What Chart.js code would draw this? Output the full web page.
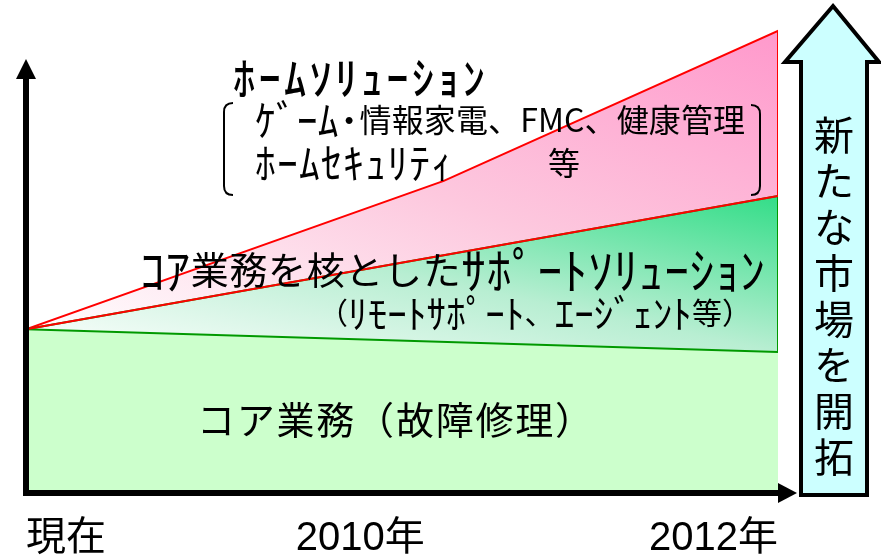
<!DOCTYPE html>
<html lang="ja">
<head>
<meta charset="utf-8">
<script src="https://cdn.jsdelivr.net/npm/chart.js@4.4.1/dist/chart.umd.min.js"></script>
<style>
  html, body { margin: 0; background: #fff; }
</style>
</head>
<body>
<canvas id="chart" width="881" height="560"></canvas>
<script>
// ---- data (index 0-100, years on x) ----
const years = [2008.4, 2010.4, 2012];           // 現在, 途中, 2012年
const tickYears = [2008.4, 2010, 2012];
const tickLabels = ['現在', '2010年', '2012年'];
const seriesNames = ['コア業務', 'コア業務を核としたサポートソリューション', 'ホームソリューション'];
const coreTop    = [34.6, null, 29.8];
const supportTop = [34.6, null, 62.8];
const homeTop    = [34.6, 66.0, 97.7];

const last = a => a[a.length - 1];
const pts = vals => years.map((x, i) => ({ x, y: vals[i] })).filter(p => p.y !== null);

// each layer closes down its right edge to the layer below
const coreData    = pts(coreTop);
const supportData = pts(supportTop).concat({ x: last(years), y: last(coreTop) });
const homeData    = pts(homeTop).concat({ x: last(years), y: last(supportTop) });

// diagonal gradient over the layer's bounding box (bottom-left -> top-right)
function diag(stops) {
  return c => {
    const chart = c.chart, sx = chart.scales.x, sy = chart.scales.y;
    if (!chart.chartArea || !sx || !sy || !c.dataset) return last(stops)[1];
    const xs = c.dataset.data.map(p => sx.getPixelForValue(p.x));
    const ys = c.dataset.data.map(p => sy.getPixelForValue(p.y));
    const x0 = Math.min(...xs), x1 = Math.max(...xs);
    const y0 = Math.min(...ys), y1 = Math.max(...ys);
    if (![x0, x1, y0, y1].every(isFinite)) return last(stops)[1];
    const W = x1 - x0, H = y1 - y0, k = 2 * W * H / (W * W + H * H);
    const g = chart.ctx.createLinearGradient(x0, y1, x0 + H * k, y1 - W * k);
    stops.forEach(([o, col]) => g.addColorStop(o, col));
    return g;
  };
}

// half-width kana are drawn a bit larger so they read like the original's tall narrow glyphs
const isHalfKana = ch => ch >= '\uFF61' && ch <= '\uFF9F';

function spread(ctx, text, x0, x1, cy, size, weight, kanaScale) {
  const fontFor = ch => `${weight || 'normal'} ${isHalfKana(ch) ? size * (kanaScale || 1.3) : size}px ${JP}`;
  ctx.textBaseline = 'middle';
  ctx.textAlign = 'left';
  const chars = [...text];
  const ws = chars.map(ch => { ctx.font = fontFor(ch); return ctx.measureText(ch).width; });
  const total = ws.reduce((s, w) => s + w, 0);
  const target = x1 - x0;
  const sc = total > target ? target / total : 1;
  const gap = total < target && chars.length > 1 ? (target - total) / (chars.length - 1) : 0;
  ctx.save();
  ctx.translate(x0, cy);
  ctx.scale(sc, 1);
  let x = 0;
  chars.forEach((ch, i) => { ctx.font = fontFor(ch); ctx.fillText(ch, x, 0); x += ws[i] + gap; });
  ctx.restore();
}

const JP = '"Noto Sans CJK JP", sans-serif';

const deco = {
  id: 'deco',
  afterDraw(chart) {
    const { ctx, chartArea: a } = chart;
    ctx.save();

    // axes with arrow heads
    ctx.fillStyle = '#000';
    ctx.strokeStyle = '#000';
    ctx.lineWidth = 6;
    ctx.beginPath(); ctx.moveTo(a.left, a.bottom + 3); ctx.lineTo(a.left, 76); ctx.stroke();
    ctx.beginPath(); ctx.moveTo(a.left - 10, 79); ctx.lineTo(a.left + 10, 79); ctx.lineTo(a.left, 59); ctx.closePath(); ctx.fill();
    ctx.beginPath(); ctx.moveTo(a.left - 3, a.bottom); ctx.lineTo(a.right + 2, a.bottom); ctx.stroke();
    ctx.beginPath(); ctx.moveTo(a.right, a.bottom - 10); ctx.lineTo(a.right, a.bottom + 10); ctx.lineTo(a.right + 19, a.bottom); ctx.closePath(); ctx.fill();

    // big cyan arrow
    ctx.beginPath();
    ctx.moveTo(833, 6); ctx.lineTo(879, 62); ctx.lineTo(867, 62); ctx.lineTo(867, 495);
    ctx.lineTo(801, 495); ctx.lineTo(801, 62); ctx.lineTo(785, 62); ctx.closePath();
    ctx.fillStyle = '#ccffff';
    ctx.fill();
    ctx.lineWidth = 4;
    ctx.lineJoin = 'miter';
    ctx.stroke();

    ctx.fillStyle = '#000';
    ctx.font = '40px ' + JP;
    ctx.textAlign = 'center';
    ctx.textBaseline = 'middle';
    [...'新たな市場を開拓'].forEach((ch, i) => ctx.fillText(ch, 834, 135 + i * 46));

    // brackets
    ctx.lineWidth = 2;
    ctx.beginPath();
    ctx.moveTo(233, 103); ctx.quadraticCurveTo(224, 103, 224, 112);
    ctx.lineTo(224, 186); ctx.quadraticCurveTo(224, 195, 233, 195);
    ctx.stroke();
    ctx.beginPath();
    ctx.moveTo(751, 105); ctx.quadraticCurveTo(760, 105, 760, 114);
    ctx.lineTo(760, 186); ctx.quadraticCurveTo(760, 195, 751, 195);
    ctx.stroke();

    // labels
    spread(ctx, 'ﾎｰﾑｿﾘｭｰｼｮﾝ', 233, 485, 78, 33, '500', 1.35);
    spread(ctx, 'ｹﾞｰﾑ･情報家電、FMC、健康管理', 255, 745, 120, 32);
    spread(ctx, 'ﾎｰﾑｾｷｭﾘﾃｨ', 255, 452, 163, 32);
    spread(ctx, '等', 548, 582, 163, 32);
    spread(ctx, 'ｺｱ業務を核としたｻﾎﾟｰﾄｿﾘｭｰｼｮﾝ', 140, 765, 270, 38);
    spread(ctx, '（ﾘﾓｰﾄｻﾎﾟｰﾄ、ｴｰｼﾞｪﾝﾄ等）', 318, 752, 313, 30);
    spread(ctx, 'コア業務（故障修理）', 197, 593, 420, 38);

    ctx.restore();
  }
};

Chart.defaults.font.family = '"Liberation Sans", "Noto Sans CJK JP", sans-serif';

new Chart(document.getElementById('chart').getContext('2d'), {
  type: 'line',
  data: {
    datasets: [
      { label: seriesNames[1] + '（上端）', data: pts(supportTop), borderColor: '#ff0000', borderWidth: 2, fill: false },
      { label: seriesNames[0], data: coreData, borderColor: '#009900', borderWidth: 2,
        backgroundColor: '#ccffcc', fill: 'origin' },
      { label: seriesNames[1], data: supportData, borderColor: '#009900', borderWidth: 2,
        backgroundColor: diag([[0, '#ffffff'], [0.5, '#b8eed2'], [1, '#33dd88']]), fill: 'origin' },
      { label: seriesNames[2], data: homeData, borderColor: '#ff0000', borderWidth: 2,
        backgroundColor: diag([[0, '#ffffff'], [0.5, '#fdc8de'], [1, '#ff99cc']]), fill: 'origin' }
    ]
  },
  options: {
    responsive: false,
    animation: false,
    layout: { padding: { left: 20, right: 103, top: 20, bottom: -25 } },
    elements: { point: { radius: 0 }, line: { tension: 0 } },
    scales: {
      x: {
        type: 'linear', min: years[0], max: last(years),
        grid: { display: false, drawTicks: false },
        border: { display: false },
        afterBuildTicks: s => { s.ticks = tickYears.map(v => ({ value: v })); },
        ticks: {
          align: 'inner', autoSkip: false, maxRotation: 0, padding: 26,
          color: '#000', font: { size: 40, lineHeight: 1 },
          callback: (v, i) => tickLabels[i]
        }
      },
      y: { display: false, min: 0, max: 100 }
    },
    plugins: { legend: { display: false }, tooltip: { enabled: false } }
  },
  plugins: [deco]
});
</script>
</body>
</html>
